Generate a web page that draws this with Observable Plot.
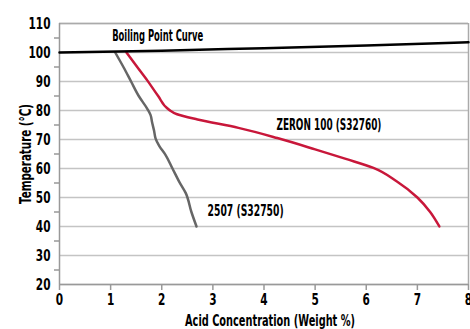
<!DOCTYPE html>
<html>
<head>
<meta charset="utf-8">
<script src="https://cdn.jsdelivr.net/npm/d3@7"></script>
<script src="https://cdn.jsdelivr.net/npm/@observablehq/plot@0.6"></script>
<style>
  html, body { margin: 0; padding: 0; background: #fff; }
</style>
</head>
<body>
<div id="chart"></div>
<script>
const FONT = "'DejaVu Sans', sans-serif";

// Boiling point curve
const boilX = [0, 2, 4, 6, 8];
const boilY = [100, 100.6, 101.5, 102.4, 103.5];

// ZERON 100 (S32760)
const zeronX = [1.31, 1.52, 1.72, 1.93, 2.14, 2.3, 2.7, 3.5, 4.26, 5.0, 5.6, 6.14, 6.6, 7.0, 7.25, 7.43];
const zeronY = [100, 95, 90.3, 85, 80.3, 78.7, 76.9, 74, 70.5, 66.6, 63.3, 60.2, 55.5, 50, 45, 40];

// 2507 (S32750)
const s2507X = [1.09, 1.25, 1.4, 1.55, 1.72, 1.78, 1.81, 1.85, 1.88, 1.95, 2.07, 2.21, 2.34, 2.47, 2.58, 2.68];
const s2507Y = [100, 95, 90, 85, 80.5, 78.5, 76, 73, 70.3, 67.8, 64.8, 60, 55.5, 51.5, 45, 40];

const xTicks = [0, 1, 2, 3, 4, 5, 6, 7, 8];
const yTicks = [20, 30, 40, 50, 60, 70, 80, 90, 100, 110];
const yMinor = [25, 35, 45, 55, 65, 75, 85, 95, 105];

const labels = [
  {x: 1.92, y: 105.6, text: "Boiling Point Curve"},
  {x: 5.27, y: 74.8, text: "ZERON 100 (S32760)"},
  {x: 3.64, y: 45.3, text: "2507 (S32750)"}
];
const labelWidths = [91, 105, 76];

const toPts = (xs, ys) => xs.map((x, i) => ({x, y: ys[i]}));

const chart = Plot.plot({
  width: 470,
  height: 329,
  marginLeft: 59,
  marginRight: 2,
  marginTop: 23,
  marginBottom: 45,
  style: {fontFamily: FONT, background: "#fff"},
  x: {domain: [0, 8]},
  y: {domain: [20, 110]},
  marks: [
    Plot.gridY(yTicks, {stroke: "#c4c4c4", strokeOpacity: 1, strokeWidth: 1.5}),
    Plot.ruleY([110], {stroke: "#aaa", strokeWidth: 1.5}),
    Plot.ruleX([8], {stroke: "#aaa", strokeWidth: 1.5}),
    Plot.axisY(yMinor, {tickSize: 5, text: null, stroke: "#999", label: null, strokeWidth: 1.5}),
    Plot.axisY(yTicks, {tickSize: 0, tickPadding: 9, fontSize: 16, fill: "#000",
      label: "Temperature (°C)", labelAnchor: "center", labelOffset: 40, labelArrow: "none"}),
    Plot.axisX(xTicks, {tickSize: 6, tickPadding: 3, fontSize: 16, stroke: "#999", strokeWidth: 1.5, fill: "#000",
      label: "Acid Concentration (Weight %)", labelAnchor: "center", labelOffset: 41, labelArrow: "none"}),
    Plot.ruleX([0], {stroke: "#999", strokeWidth: 1.5}),
    Plot.ruleY([20], {stroke: "#999", strokeWidth: 1.5}),
    Plot.line(toPts(s2507X, s2507Y), {x: "x", y: "y", stroke: "#666", strokeWidth: 2.5, curve: "monotone-y"}),
    Plot.line(toPts(zeronX, zeronY), {x: "x", y: "y", stroke: "#c8173a", strokeWidth: 2.5, curve: "monotone-y"}),
    Plot.line(toPts(boilX, boilY), {x: "x", y: "y", stroke: "#000", strokeWidth: 2.5, curve: "monotone-x"}),
    Plot.text(labels, {x: "x", y: "y", text: "text", fontSize: 15, fill: "#000", fontWeight: "bold"})
  ]
});

document.getElementById("chart").appendChild(chart);

// narrow the text to match the condensed typeface of the original
function squeeze(t, w) {
  t.setAttribute("textLength", w);
  t.setAttribute("lengthAdjust", "spacingAndGlyphs");
}
chart.querySelectorAll("g[aria-label='y-axis tick label'] text, g[aria-label='x-axis tick label'] text").forEach(t => {
  squeeze(t, t.getComputedTextLength() * 0.72);
  t.setAttribute("font-weight", "bold");
});
chart.querySelectorAll("g[aria-label='y-axis label'] text").forEach(t => {
  t.setAttribute("font-size", 15.5); t.setAttribute("font-weight", "bold"); squeeze(t, 100);
});
chart.querySelectorAll("g[aria-label='x-axis label'] text").forEach(t => {
  t.setAttribute("font-size", 15.5); t.setAttribute("font-weight", "bold"); t.setAttribute("dx", 6); squeeze(t, 170);
});
chart.querySelectorAll("g[aria-label='text'] text").forEach((t, i) => squeeze(t, labelWidths[i]));
</script>
</body>
</html>
